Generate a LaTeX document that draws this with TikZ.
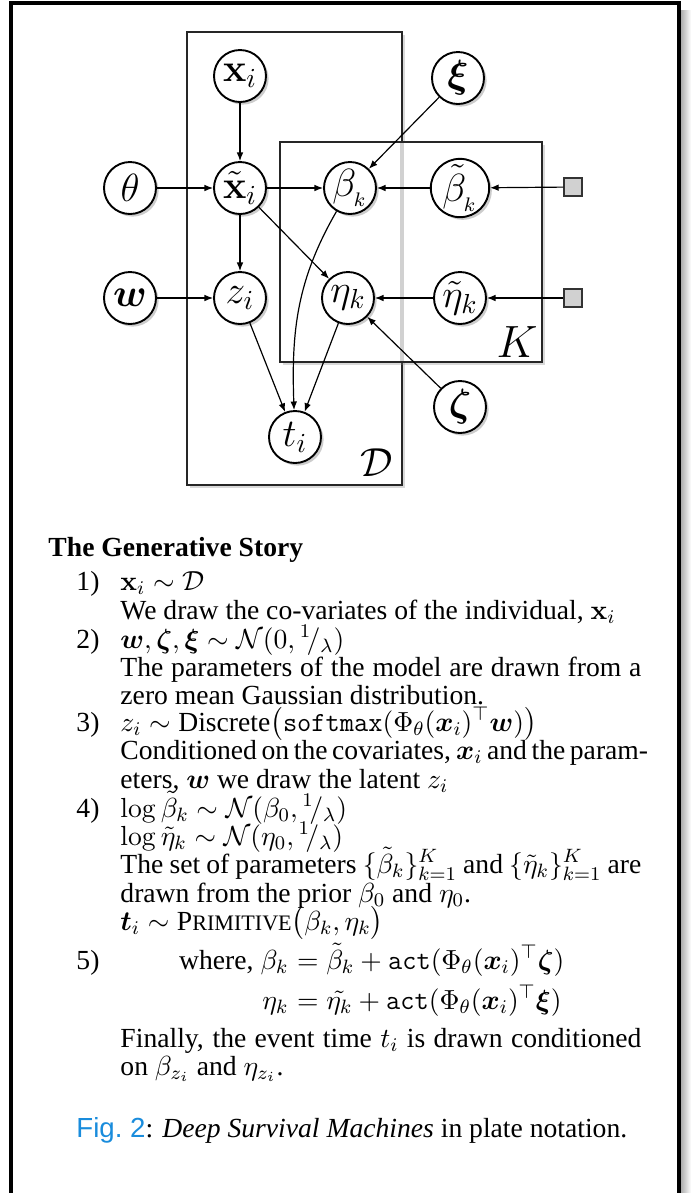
\RequirePackage{fix-cm}
\documentclass[tikz,border=0pt]{standalone}
\usepackage{amsmath,amssymb}
\usepackage{bm}
\usepackage[no-math]{fontspec}
\setmainfont{Liberation Serif}
\setsansfont{Liberation Sans}
\usetikzlibrary{shadows,arrows.meta}
\definecolor{figblue}{RGB}{25,140,220}
\newcommand{\bodyfont}{\fontsize{11.6}{13.5}\selectfont}
\newcommand{\nodefont}{\fontsize{16.5}{19}\selectfont}
\newcommand{\jl}[1]{\makebox[218.8pt][s]{#1}}
\newcommand{\ilam}{{}^{1}\!/{}_{\lambda}}
\newcommand{\primname}{P\scalebox{0.8}{RIMITIVE}}
\tikzset{
  var/.style={circle, draw=black, line width=0.8pt, fill=white, minimum size=21.84pt, inner sep=0pt, font=\nodefont,
    drop shadow={shadow xshift=1.1pt, shadow yshift=-1.1pt, opacity=0.4}},
  obs/.style={rectangle, draw=black!80, line width=0.5pt, fill=black!18, minimum size=7.56pt, inner sep=0pt},
  plate/.style={rectangle, draw=black!85, line width=0.6pt, fill=white, inner sep=0pt,
    drop shadow={shadow xshift=1.2pt, shadow yshift=-1.2pt, opacity=0.3}},
  edge/.style={-{Latex[length=3.6pt,width=2.8pt]}, line width=0.5pt},
  body/.style={anchor=base west, inner sep=0pt, font=\bodyfont},
}
\begin{document}
\begin{tikzpicture}[x=0.42pt,y=0.42pt]
\useasboundingbox (0,0) rectangle (699,-1193);
% outer frame with shadow
\shade[left color=black!35, right color=white] (680,-10) rectangle (691,-1193);
\draw[line width=1.3pt] (11,-1193) -- (11,-3) -- (679,-3) -- (679,-1193);
% plates
\node[plate, minimum width=90.3pt, minimum height=190.26pt] (plD) at (294.5,-258.5) {};
\node[plate, minimum width=110.04pt, minimum height=92.4pt] (plK) at (411,-252) {};
\draw[black!18, line width=1.6pt] (402,-143) -- (402,-361);
\node[font=\fontsize{17}{20}\selectfont, inner sep=0pt] (lD) at (377,-463) {$\mathcal{D}$};
\node[font=\fontsize{19}{22}\selectfont, inner sep=0pt] (lK) at (517,-342) {$K$};
% variables
\node[var] (xi) at (240,-76) {$\mathbf{x}_i$};
\node[var] (xt) at (240,-188) {$\tilde{\mathbf{x}}_i$};
\node[var] (th) at (130,-188) {$\theta$};
\node[var] (w) at (130,-298) {$\bm{w}$};
\node[var] (z) at (240,-298) {$z_i$};
\node[var] (bk) at (350,-188) {$\beta_{_k}$};
\node[var] (ek) at (348,-298) {$\eta_k$};
\node[var] (xs) at (458,-78) {$\bm{\xi}$};
\node[var] (bt) at (460,-188) {$\tilde{\beta}_{_k}$};
\node[var] (et) at (460,-298) {$\tilde{\eta}_k$};
\node[var] (ze) at (460,-407) {$\bm{\zeta}$};
\node[var] (t) at (295,-437) {$t_i$};
\node[obs] (sq1) at (573,-187) {};
\node[obs] (sq2) at (573,-298) {};
% edges
\draw[edge] (xi) -- (xt);
\draw[edge] (th) -- (xt);
\draw[edge] (xt) -- (bk);
\draw[edge] (xt) -- (ek);
\draw[edge] (xt) -- (z);
\draw[edge] (w) -- (z);
\draw[edge] (xs) -- (bk);
\draw[edge] (bt) -- (bk);
\draw[edge] (sq1) -- (bt);
\draw[edge] (et) -- (ek);
\draw[edge] (sq2) -- (et);
\draw[edge] (ze) -- (ek);
\draw[edge] (z) -- (t);
\draw[edge] (ek) -- (t);
\draw[edge] (bk) to[out=-120,in=92] (t);
% text
\node[body] (h) at (48,-556) {\bfseries The Generative Story};
\node[body] (n1) at (76,-590) {1)};
\node[body] (l1) at (120,-590) {$\mathbf{x}_i \sim \mathcal{D}$};
\node[body] (l2) at (120,-619) {We draw the co-variates of the individual, $\mathbf{x}_i$};
\node[body] (n2) at (76,-648) {2)};
\node[body] (l3) at (120,-648) {$\bm{w}, \bm{\zeta}, \bm{\xi} \sim \mathcal{N}(0, \ilam)$};
\node[body] (l4) at (120,-676) {\jl{The parameters of the model are drawn from a}};
\node[body] (l5) at (120,-704) {zero mean Gaussian distribution.};
\node[body] (n3) at (76,-731) {3)};
\node[body] (l6) at (120,-731) {$z_i \sim \text{Discrete}\big(\texttt{softmax}(\Phi_\theta(\bm{x}_i)^{\top}\bm{w})\big)$};
\node[body] (l7) at (120,-759) {\jl{Conditioned on the covariates, $\bm{x}_i$ and the param-}};
\node[body] (l8) at (120,-788) {eters, $\bm{w}$ we draw the latent $z_i$};
\node[body] (n4) at (76,-817) {4)};
\node[body] (l9) at (120,-817) {$\log\tilde{\beta}_k \sim \mathcal{N}(\beta_0, \ilam)$};
\node[body] (l10) at (120,-845) {$\log\tilde{\eta}_k \sim \mathcal{N}(\eta_0, \ilam)$};
\node[body] (l11) at (120,-873) {\jl{The set of parameters $\{\tilde{\beta}_k\}_{k=1}^{K}$ and $\{\tilde{\eta}_k\}_{k=1}^{K}$ are}};
\node[body] (l12) at (120,-902) {drawn from the prior $\beta_0$ and $\eta_0$.};
\node[body] (l13) at (120,-930) {$\bm{t}_i \sim \text{\primname}\big(\beta_k, \eta_k\big)$};
\node[body] (n5) at (76,-969) {5)};
\node[body, anchor=base east] (l14a) at (289,-969) {where, $\beta_k$};
\node[body] (l14b) at (289,-969) {${}=\tilde{\beta}_k + \texttt{act}(\Phi_\theta(\bm{x}_i)^{\top}\bm{\zeta})$};
\node[body, anchor=base east] (l15a) at (289,-1009) {$\eta_k$};
\node[body] (l15b) at (289,-1009) {${}=\tilde{\eta_k} + \texttt{act}(\Phi_\theta(\bm{x}_i)^{\top}\bm{\xi})$};
\node[body] (l16) at (120,-1047) {\jl{Finally, the event time $t_i$ is drawn conditioned}};
\node[body] (l17) at (120,-1075) {on $\beta_{z_i}$ and $\eta_{z_i}$.};
\node[body] (cap) at (76,-1137) {{\sffamily\color{figblue}Fig.~2}: \textit{Deep Survival Machines} in plate notation.};
\end{tikzpicture}
\end{document}
